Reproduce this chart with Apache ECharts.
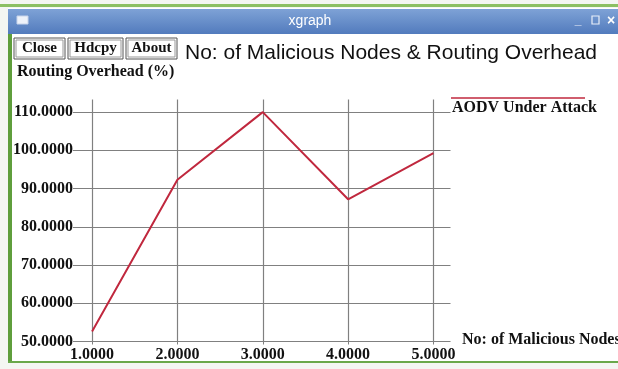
<!DOCTYPE html>
<html>
<head>
<meta charset="utf-8">
<script src="https://cdn.jsdelivr.net/npm/echarts@6/dist/echarts.min.js"></script>
<style>
  html, body { margin: 0; padding: 0; background: #ffffff; }
  #chart { width: 618px; height: 369px; }
</style>
</head>
<body>
<div id="chart"></div>
<script>
// Number of malicious nodes vs. routing overhead (AODV under attack)
var maliciousNodes = [1, 2, 3, 4, 5];
var routingOverhead = [52.6, 92.3, 110.0, 87.2, 99.3];
var xTicks = [1, 2, 3, 4, 5];
var yTicks = [50, 60, 70, 80, 90, 100, 110];
var seriesName = 'AODV Under Attack';

var serif = '"Liberation Serif", "DejaVu Serif", serif';
var sans = '"Liberation Sans", Arial, sans-serif';

var chart = echarts.init(document.getElementById('chart'), null, { renderer: 'canvas' });

function fmt4(v) { return Number(v).toFixed(4); }

var button = function (x, w, label) {
  return [
    { type: 'rect', shape: { x: x, y: 38, width: w, height: 21 },
      style: { fill: '#ffffff', stroke: '#555555', lineWidth: 1 }, z: 10 },
    { type: 'rect', shape: { x: x + 2, y: 40, width: w - 4, height: 17 },
      style: { fill: 'none', stroke: '#999999', lineWidth: 1 }, z: 10 },
    { type: 'text', x: x + w / 2, y: 48.5, z: 11,
      style: { text: label, font: 'bold 15px ' + serif, fill: '#111111',
               align: 'center', verticalAlign: 'middle' } }
  ];
};

var graphics = [
  // desktop strip and window frame
  { type: 'rect', shape: { x: 0, y: 0, width: 618, height: 369 }, style: { fill: '#f4f6f2' }, z: -10 },
  { type: 'rect', shape: { x: 0, y: 4, width: 618, height: 3 }, style: { fill: '#8cc063' }, z: -9 },
  { type: 'rect', shape: { x: 8, y: 8, width: 610, height: 354 }, style: { fill: '#ffffff' }, z: -8 },
  { type: 'rect', shape: { x: 8, y: 30, width: 4, height: 332 }, style: { fill: '#5f9e3c' }, z: -7 },
  { type: 'rect', shape: { x: 8, y: 361, width: 610, height: 2 }, style: { fill: '#6aa84a' }, z: -7 },
  // title bar
  { type: 'rect', shape: { x: 8, y: 9, width: 610, height: 25 },
    style: { fill: new echarts.graphic.LinearGradient(0, 0, 0, 1, [
      { offset: 0, color: '#7ea2d6' }, { offset: 1, color: '#527bbd' }]) }, z: -6 },
  { type: 'rect', shape: { x: 17, y: 16, width: 11, height: 8 },
    style: { fill: '#eef2fa', stroke: '#c8d4ea' }, z: -5 },
  { type: 'text', x: 310, y: 21, z: -5,
    style: { text: 'xgraph', font: '14px ' + sans, fill: '#ffffff', align: 'center', verticalAlign: 'middle' } },
  { type: 'text', x: 578, y: 21, z: -5,
    style: { text: '_', font: 'bold 12px ' + sans, fill: '#e8eef8', align: 'center', verticalAlign: 'middle' } },
  { type: 'rect', shape: { x: 592, y: 16, width: 7, height: 8 },
    style: { fill: 'none', stroke: '#e8eef8', lineWidth: 1.2 }, z: -5 },
  { type: 'text', x: 611, y: 21, z: -5,
    style: { text: '×', font: 'bold 14px ' + sans, fill: '#ffffff', align: 'center', verticalAlign: 'middle' } },
  // plot title
  { type: 'text', x: 185, y: 53, z: 10,
    style: { text: 'No: of Malicious Nodes & Routing Overhead', font: '21px ' + sans,
             fill: '#111111', align: 'left', verticalAlign: 'middle' } },
  // axis names
  { type: 'text', x: 17, y: 72, z: 10,
    style: { text: 'Routing Overhead (%)', font: 'bold 16px ' + serif, fill: '#111111',
             align: 'left', verticalAlign: 'middle' } },
  { type: 'text', x: 462, y: 340, z: 10,
    style: { text: 'No: of Malicious Nodes', font: 'bold 16px ' + serif, fill: '#111111',
             align: 'left', verticalAlign: 'middle' } },
  // legend entry
  { type: 'line', shape: { x1: 451, y1: 98, x2: 585, y2: 98 },
    style: { stroke: '#c0283e', lineWidth: 1.5 }, z: 10 },
  { type: 'text', x: 452, y: 108, z: 10,
    style: { text: seriesName, font: 'bold 16px ' + serif, fill: '#111111',
             align: 'left', verticalAlign: 'middle' } }
].concat(button(14, 51, 'Close'), button(68, 55, 'Hdcpy'), button(126, 51, 'About'));

var option = {
  animation: false,
  backgroundColor: 'transparent',
  grid: { left: 75, right: 167.5, top: 99.5, bottom: 27.5, containLabel: false },
  xAxis: {
    type: 'value', min: 0.8, max: 5.2,
    axisLine: { show: false },
    axisTick: { show: true, length: 3, customValues: xTicks, lineStyle: { color: '#808080' } },
    splitLine: { show: true, lineStyle: { color: '#808080', width: 1.2 } },
    axisLabel: { customValues: xTicks, formatter: fmt4, margin: 5,
                 color: '#111111', fontFamily: serif, fontWeight: 'bold', fontSize: 16 }
  },
  yAxis: {
    type: 'value', min: 50, max: 113.3,
    axisLine: { show: false },
    axisTick: { show: true, length: 2, customValues: yTicks, lineStyle: { color: '#808080' } },
    splitLine: { show: true, lineStyle: { color: '#808080', width: 1.2 } },
    axisLabel: { customValues: yTicks, formatter: fmt4, margin: 2,
                 color: '#111111', fontFamily: serif, fontWeight: 'bold', fontSize: 16 }
  },
  series: [{
    name: seriesName,
    type: 'line',
    data: maliciousNodes.map(function (x, i) { return [x, routingOverhead[i]]; }),
    showSymbol: false,
    lineStyle: { color: '#c0283e', width: 2 },
    z: 5
  }],
  graphic: graphics
};

chart.setOption(option);
</script>
</body>
</html>
